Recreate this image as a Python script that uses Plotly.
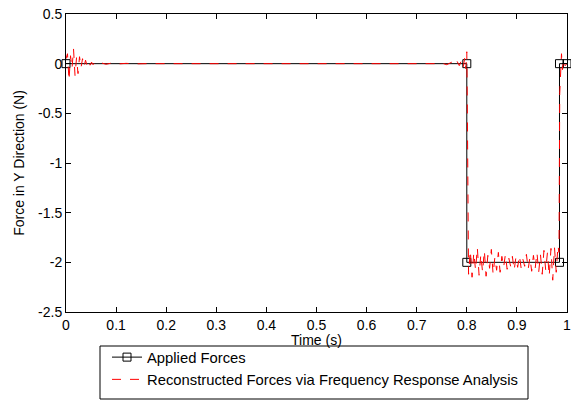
import plotly.graph_objects as go

# Applied forces (black, square markers)
applied_t = [0, 0.8, 0.8, 0.985, 0.985, 1.0]
applied_f = [0, 0, -2, -2, 0, 0]

# Reconstructed forces (red dashed)
red_t_start = [0, 0.003, 0.006, 0.009, 0.012, 0.015, 0.018, 0.021, 0.024, 0.027, 0.030,
               0.033, 0.036, 0.039, 0.042, 0.045, 0.048, 0.051, 0.054, 0.057, 0.060,
               0.07, 0.08, 0.09, 0.10, 0.12, 0.14, 0.16]
red_f_start = [0.05, 0.1, -0.17, 0.08, -0.05, 0.15, -0.12, 0.06, -0.1, 0.07, -0.04,
               0.05, -0.03, 0.035, -0.02, 0.025, -0.015, 0.015, -0.01, 0.01, -0.005,
               0.008, -0.006, 0.005, -0.004, 0.003, -0.002, 0.0]

red_t_pre = [0.74, 0.75, 0.76, 0.77, 0.775, 0.78, 0.785, 0.79, 0.793, 0.796, 0.798, 0.8, 0.801, 0.802]
red_f_pre = [0.0, 0.005, -0.01, 0.015, -0.01, 0.03, -0.02, 0.04, -0.03, 0.06, -0.05, 0.12, -0.4, -1.9]

red_t_low = [0.8035, 0.807, 0.8105, 0.814, 0.8175, 0.821, 0.8245, 0.828, 0.8315, 0.835,
             0.8385, 0.842, 0.8455, 0.849, 0.8525, 0.856, 0.8595, 0.863, 0.8665, 0.870,
             0.8735, 0.877, 0.8805, 0.884, 0.8875, 0.891, 0.8945, 0.898, 0.9015, 0.905,
             0.9085, 0.912, 0.9155, 0.919, 0.9225, 0.926, 0.9295, 0.933, 0.9365, 0.940,
             0.9435, 0.947, 0.9505, 0.954, 0.9575, 0.961, 0.9645, 0.968, 0.9715, 0.975,
             0.9785, 0.982]
red_f_low = [-2.12, -1.88, -2.15, -1.9, -2.08, -1.85, -2.13, -1.92, -2.1, -1.88,
             -2.14, -1.93, -2.06, -1.87, -2.12, -1.95, -2.08, -1.9, -2.1, -1.94,
             -2.05, -1.92, -2.07, -1.96, -2.04, -1.94, -2.08, -1.95, -2.05, -1.93,
             -2.06, -1.97, -2.04, -1.92, -2.07, -1.95, -2.09, -1.93, -2.06, -1.9,
             -2.1, -1.92, -2.12, -1.88, -2.08, -1.9, -2.14, -1.86, -2.18, -1.85,
             -2.1, -1.83]

red_t_end = [0.984, 0.9855, 0.987, 0.989, 0.991, 0.993, 0.996, 1.0]
red_f_end = [-1.9, -0.3, -0.15, 0.1, -0.06, 0.04, -0.02, 0.0]

red_t = red_t_start + red_t_pre + red_t_low + red_t_end
red_f = red_f_start + red_f_pre + red_f_low + red_f_end

x_ticks = [0, 0.1, 0.2, 0.3, 0.4, 0.5, 0.6, 0.7, 0.8, 0.9, 1]
x_labels = ["0", "0.1", "0.2", "0.3", "0.4", "0.5", "0.6", "0.7", "0.8", "0.9", "1"]
y_ticks = [0.5, 0, -0.5, -1, -1.5, -2, -2.5]
y_labels = ["0.5", "0", "-0.5", "-1", "-1.5", "-2", "-2.5"]

FONT = "Liberation Sans, Arial, sans-serif"

fig = go.Figure()
fig.add_trace(go.Scatter(
    x=applied_t, y=applied_f, mode="lines+markers", name="Applied Forces",
    line=dict(color="black", width=1),
    marker=dict(symbol="square-open", size=8, color="black", line=dict(width=1)),
    cliponaxis=False, legendgroup="a",
))
fig.add_trace(go.Scatter(
    x=red_t, y=red_f, mode="lines", name="Reconstructed Forces via Frequency Response Analysis",
    line=dict(color="red", width=1, dash="dash"), legendgroup="b",
))

# plot area in pixels: left 66, right 567, top 14, bottom 312
def px_x(p):
    return (p - 66) / 501.0

def px_y(p):
    return (312 - p) / 298.0

fig.update_layout(
    width=571, height=400,
    margin=dict(l=66, r=4, t=14, b=88, autoexpand=False),
    paper_bgcolor="white", plot_bgcolor="white",
    font=dict(family=FONT, size=14, color="black"),
    showlegend=True,
    legend=dict(
        x=px_x(107), xanchor="left", y=px_y(341), yanchor="top",
        bgcolor="rgba(0,0,0,0)", borderwidth=0,
        font=dict(family=FONT, size=14.8, color="black"),
        traceorder="grouped", tracegroupgap=0, itemwidth=30,
    ),
    shapes=[dict(
        type="rect", xref="paper", yref="paper",
        x0=px_x(100), x1=px_x(528), y0=px_y(346), y1=px_y(399),
        line=dict(color="black", width=1), fillcolor="white", layer="below",
    )],
    annotations=[dict(
        text="Time (s)", xref="paper", yref="paper", x=0.5, y=px_y(339.5),
        xanchor="center", yanchor="middle", showarrow=False,
        font=dict(family=FONT, size=14, color="black"),
    )],
    xaxis=dict(
        range=[0, 1], tickvals=x_ticks, ticktext=x_labels, automargin=False,
        showline=True, linecolor="black", linewidth=1, mirror="ticks",
        ticks="inside", ticklen=5, tickcolor="black",
        showgrid=False, zeroline=False, ticklabeloverflow="allow",
    ),
    yaxis=dict(
        range=[-2.5, 0.5], tickvals=y_ticks, ticktext=y_labels, automargin=False,
        showline=True, linecolor="black", linewidth=1, mirror="ticks",
        ticks="inside", ticklen=5, tickcolor="black",
        showgrid=False, zeroline=False, ticklabeloverflow="allow",
        title=dict(text="Force in Y Direction (N)", standoff=10, font=dict(size=14)),
    ),
)

fig.write_html(
    "out.html",
    config={"displayModeBar": False},
    post_script="document.body.style.margin='0';document.body.style.overflow='hidden';",
)
